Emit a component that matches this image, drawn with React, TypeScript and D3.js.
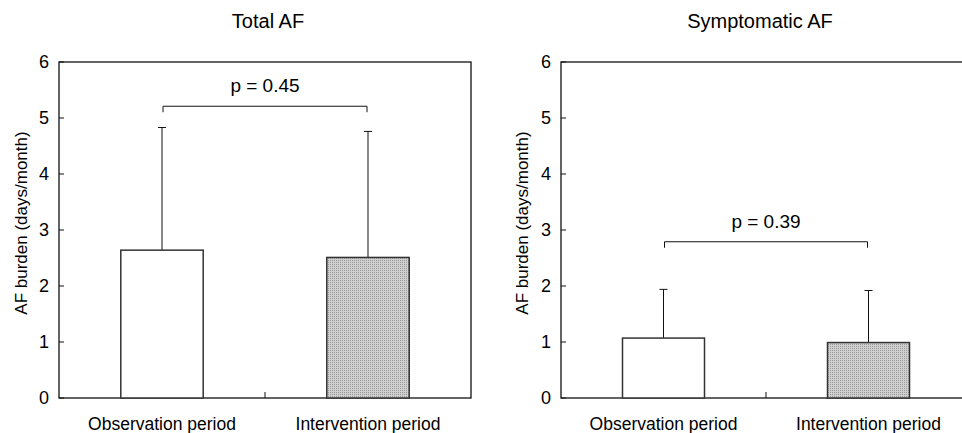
import React, { useRef, useEffect } from "react";
import * as d3 from "d3";

const categories = ["Observation period", "Intervention period"];
const panelTitles = ["Total AF", "Symptomatic AF"];
const totalMean = [2.64, 2.51];
const totalSD = [2.19, 2.25];
const sympMean = [1.07, 0.99];
const sympSD = [0.87, 0.93];
const pLabels = ["p = 0.45", "p = 0.39"];
const bracketLevels = [5.21, 2.79];
const yTicks = [0, 1, 2, 3, 4, 5, 6];

const W = 962;
const H = 433;

const App = () => {
  const svgRef = useRef<SVGSVGElement>(null);

  useEffect(() => {
    const svg = d3.select(svgRef.current);
    svg.selectAll("*").remove();

    // stippled grey fill for the intervention bars
    const pat = svg
      .append("defs")
      .append("pattern")
      .attr("id", "stipple")
      .attr("width", 2)
      .attr("height", 2)
      .attr("patternUnits", "userSpaceOnUse");
    pat.append("rect").attr("width", 2).attr("height", 2).attr("fill", "#d0d0d0");
    pat.append("rect").attr("width", 1).attr("height", 1).attr("fill", "#999");

    const panels = [
      { x0: 59, x1: 471, mean: totalMean, sd: totalSD, titleX: 268, labelX: 21 },
      { x0: 561, x1: 971, mean: sympMean, sd: sympSD, titleX: 760, labelX: 522 },
    ];

    const y = d3.scaleLinear().domain([0, 6]).range([398, 62]);
    const font = "Arial, 'Liberation Sans', sans-serif";

    panels.forEach((p, i) => {
      const x = d3
        .scaleBand()
        .domain(categories)
        .range([p.x0, p.x1])
        .paddingInner(0.6)
        .paddingOuter(0.3);
      const g = svg.append("g");

      // title
      g.append("text")
        .attr("x", p.titleX)
        .attr("y", 28)
        .attr("text-anchor", "middle")
        .attr("font-family", font)
        .attr("font-size", 20)
        .text(panelTitles[i]);

      // frame
      g.append("rect")
        .attr("x", p.x0)
        .attr("y", y(6))
        .attr("width", p.x1 - p.x0)
        .attr("height", y(0) - y(6))
        .attr("fill", "none")
        .attr("stroke", "#111")
        .attr("stroke-width", 1.3);

      // y ticks (inward)
      g.selectAll(".tick")
        .data(yTicks)
        .enter()
        .append("line")
        .attr("x1", p.x0)
        .attr("x2", p.x0 + 5)
        .attr("y1", (d) => y(d))
        .attr("y2", (d) => y(d))
        .attr("stroke", "#111");

      g.selectAll(".tl")
        .data(yTicks)
        .enter()
        .append("text")
        .attr("x", p.x0 - 10)
        .attr("y", (d) => y(d))
        .attr("dy", "0.36em")
        .attr("text-anchor", "end")
        .attr("font-family", font)
        .attr("font-size", 18)
        .text((d) => d);

      // divider tick between categories
      const mid = (p.x0 + p.x1) / 2;
      g.append("line")
        .attr("x1", mid)
        .attr("x2", mid)
        .attr("y1", y(0))
        .attr("y2", y(0) - 6)
        .attr("stroke", "#111");

      // y label
      g.append("text")
        .attr("transform", `translate(${p.labelX},223) rotate(-90)`)
        .attr("text-anchor", "middle")
        .attr("dy", "0.35em")
        .attr("font-family", font)
        .attr("font-size", 17)
        .text("AF burden (days/month)");

      // error bars (upper only)
      categories.forEach((c, j) => {
        const cx = x(c)! + x.bandwidth() / 2;
        const top = y(p.mean[j] + p.sd[j]);
        g.append("line")
          .attr("x1", cx)
          .attr("x2", cx)
          .attr("y1", y(p.mean[j]))
          .attr("y2", top)
          .attr("stroke", "#111");
        g.append("line")
          .attr("x1", cx - 4)
          .attr("x2", cx + 4)
          .attr("y1", top)
          .attr("y2", top)
          .attr("stroke", "#111");
      });

      // bars
      g.selectAll(".bar")
        .data(categories)
        .enter()
        .append("rect")
        .attr("x", (d) => x(d)!)
        .attr("y", (d, j) => y(p.mean[j]))
        .attr("width", x.bandwidth())
        .attr("height", (d, j) => y(0) - y(p.mean[j]))
        .attr("fill", (d, j) => (j === 0 ? "#fff" : "url(#stipple)"))
        .attr("stroke", "#333")
        .attr("stroke-width", 1.5);

      // category labels
      g.selectAll(".cl")
        .data(categories)
        .enter()
        .append("text")
        .attr("x", (d) => x(d)! + x.bandwidth() / 2)
        .attr("y", 430)
        .attr("text-anchor", "middle")
        .attr("font-family", font)
        .attr("font-size", 17.5)
        .text((d) => d);

      // significance bracket
      const bx0 = x(categories[0])! + x.bandwidth() / 2 + 1;
      const bx1 = x(categories[1])! + x.bandwidth() / 2 - 1;
      const by = y(bracketLevels[i]);
      g.append("path")
        .attr("d", `M${bx0},${by + 6}V${by}H${bx1}V${by + 6}`)
        .attr("fill", "none")
        .attr("stroke", "#111");
      g.append("text")
        .attr("x", (bx0 + bx1) / 2)
        .attr("y", by - 14)
        .attr("text-anchor", "middle")
        .attr("font-family", font)
        .attr("font-size", 19)
        .text(pLabels[i]);
    });
  }, []);

  return (
    <svg
      ref={svgRef}
      width={W}
      height={H}
      style={{ position: "absolute", left: 0, top: 0, background: "#fff" }}
    ></svg>
  );
};

export default App;
